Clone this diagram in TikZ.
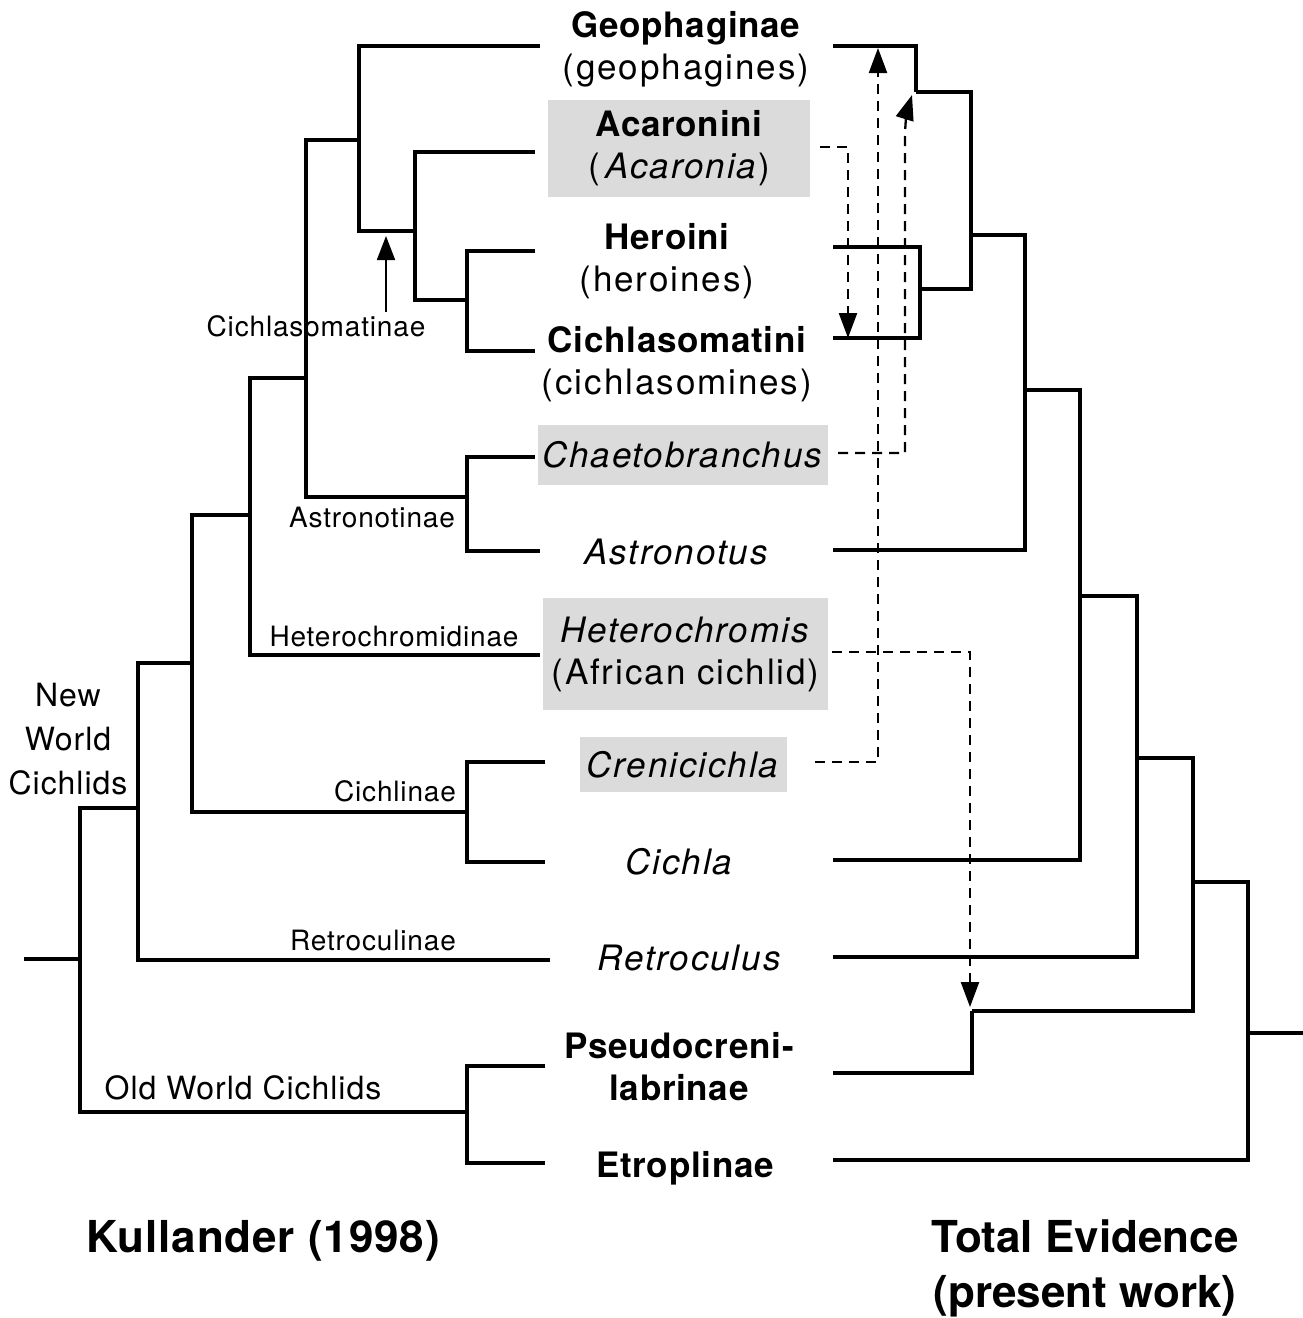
\documentclass[tikz,border=0pt]{standalone}
\usepackage{fontspec}
\setmainfont{TeX Gyre Heros}
\usetikzlibrary{arrows.meta}
\newcommand{\bld}[1]{{\bfseries\addfontfeature{LetterSpace=2}#1}}
\begin{document}
\begin{tikzpicture}[x=1pt,y=-1pt,
 br/.style={line width=3.6pt, line join=miter},
 dsh/.style={line width=2.3pt, dash pattern=on 10pt off 7pt, -{Triangle[length=25pt,width=18pt]}},
 tip/.style={inner sep=0pt, align=center, font=\fontsize{35}{42}\selectfont\addfontfeature{LetterSpace=5.5}},
 gbox/.style={fill=gray!28},
 clade/.style={inner sep=0pt, align=center, font=\fontsize{28}{44}\selectfont\addfontfeature{LetterSpace=3}},
 cladeb/.style={inner sep=0pt, align=center, font=\fontsize{32}{44}\selectfont\addfontfeature{LetterSpace=3}},
 ttl/.style={inner sep=0pt, align=center, font=\bfseries\fontsize{44}{55}\selectfont}]
\useasboundingbox (0,0) rectangle (1303,1318);
% ---------- taxon labels ----------
\node[tip] (Geo) at (686,49) {\bld{Geophaginae}\\(geophagines)};
\node[tip,gbox,minimum width=262pt,minimum height=97pt] (Aca) at (679,148) {\bld{Acaronini}\\(\,\textit{Acaronia})};
\node[tip] (Her) at (667,261) {\bld{Heroini}\\(heroines)};
\node[tip] (Cic) at (677,364) {\bld{Cichlasomatini}\\(cichlasomines)};
\node[tip,gbox,minimum width=290pt,minimum height=60pt] (Cha) at (683,455) {\textit{Chaetobranchus}};
\node[tip] (Ast) at (677,552) {\textit{Astronotus}};
\node[tip,gbox,minimum width=285pt,minimum height=112pt] (Het) at (685.5,654) {\textit{Heterochromis}\\(African cichlid)};
\node[tip,gbox,minimum width=207pt,minimum height=55pt] (Cre) at (683.5,764.5) {\textit{Crenicichla}};
\node[tip] (Cla) at (680,862) {\textit{Cichla}};
\node[tip] (Ret) at (690,958) {\textit{Retroculus}};
\node[tip] (Pse) at (679,1067) {\bld{Pseudocreni-}\\\bld{labrinae}};
\node[tip] (Etr) at (685,1168) {\bld{Etroplinae}};
% ---------- clade labels ----------
\node[clade] (lCsm) at (316,326) {Cichlasomatinae};
\node[clade] (lAst) at (372,517) {Astronotinae};
\node[clade] (lHet) at (394,636) {Heterochromidinae};
\node[clade] (lCla) at (395,791) {Cichlinae};
\node[clade] (lRet) at (373,940) {Retroculinae};
\node[cladeb] (lOW) at (243,1088) {Old World Cichlids};
\node[cladeb] (lNW) at (68,739) {New\\World\\Cichlids};
\node[ttl] (tK) at (263,1241) {\addfontfeature{LetterSpace=2}Kullander (1998)};
\node[ttl] (tT) at (1085,1268) {Total Evidence\\(present work)};
% ---------- left tree coordinates ----------
\coordinate (LGeo) at (540,46);
\coordinate (LAca) at (535,152);
\coordinate (LHer) at (535,251);
\coordinate (LCic) at (535,351);
\coordinate (LCha) at (535,457);
\coordinate (LAst) at (540,551);
\coordinate (LHet) at (540,655);
\coordinate (LCre) at (545,762);
\coordinate (LCla) at (545,862);
\coordinate (LRet) at (550,960);
\coordinate (LPse) at (545,1066);
\coordinate (LEtr) at (545,1163);
\coordinate (nA) at (467,300);
\coordinate (nB) at (415,231);
\coordinate (nC) at (359,140);
\coordinate (nAst) at (467,497);
\coordinate (nD) at (306,378);
\coordinate (nE) at (250,515);
\coordinate (nCla) at (467,812);
\coordinate (nF) at (192,663);
\coordinate (nG) at (138,808);
\coordinate (nOW) at (467,1112);
\coordinate (nR) at (80,959);
\coordinate (nR0) at (24,959);
\draw[br] (LHer) -| (nA) |- (LCic);
\draw[br] (LAca) -| (nB) |- (nA);
\draw[br] (LGeo) -| (nC) |- (nB);
\draw[br] (LCha) -| (nAst) |- (LAst);
\draw[br] (nC) -| (nD) |- (nAst);
\draw[br] (nD) -| (nE) |- (LHet);
\draw[br] (LCre) -| (nCla) |- (LCla);
\draw[br] (nE) -| (nF) |- (nCla);
\draw[br] (nF) -| (nG) |- (LRet);
\draw[br] (LPse) -| (nOW) |- (LEtr);
\draw[br] (nG) -| (nR) |- (nOW);
\draw[br] (nR0) -- (nR);
% Cichlasomatinae pointer
\coordinate (cS) at (386,312);
\coordinate (cE) at (386,236);
\draw[line width=1.8pt,-{Triangle[length=24pt,width=18pt]}] (cS) -- (cE);
% ---------- right tree coordinates ----------
\coordinate (RGeo) at (833,46);
\coordinate (RHer) at (833,247);
\coordinate (RCic) at (833,338);
\coordinate (RAst) at (833,550);
\coordinate (RCla) at (833,860);
\coordinate (RRet) at (833,957);
\coordinate (RPse) at (833,1073);
\coordinate (REtr) at (833,1160);
\coordinate (mGeo) at (916,92);
\coordinate (mA) at (920,289);
\coordinate (mB) at (971,235);
\coordinate (mC) at (1025,390);
\coordinate (mD) at (1080,596);
\coordinate (mE) at (1137,758);
\coordinate (mPse) at (972,1011);
\coordinate (mF) at (1193,882);
\coordinate (mG) at (1248,1033);
\coordinate (mR) at (1303,1033);
\draw[br] (RGeo) -| (mGeo);
\draw[br] (RHer) -| (mA) |- (RCic);
\draw[br] (mGeo) -| (mB) |- (mA);
\draw[br] (mB) -| (mC) |- (RAst);
\draw[br] (mC) -| (mD) |- (RCla);
\draw[br] (mD) -| (mE) |- (RRet);
\draw[br] (RPse) -| (mPse);
\draw[br] (mE) -| (mF) |- (mPse);
\draw[br] (mF) -| (mG) |- (REtr);
\draw[br] (mG) -- (mR);
% ---------- dashed moves ----------
\coordinate (dAca) at (820,147);
\coordinate (aAca) at (848,338);
\coordinate (dCre) at (815,762);
\coordinate (aCre) at (878,48);
\coordinate (dHet) at (832,652);
\coordinate (aHet) at (970,1007);
\coordinate (dCha) at (838,453);
\coordinate (kCha) at (905,140);
\coordinate (aCha) at (912,95);
\draw[dsh] (dAca) -| (aAca);
\draw[dsh] (dCre) -| (aCre);
\draw[dsh] (dHet) -| (aHet);
\draw[dsh] (dCha) -| (kCha) .. controls (905,118) and (908,108) .. (aCha);
\end{tikzpicture}
\end{document}
